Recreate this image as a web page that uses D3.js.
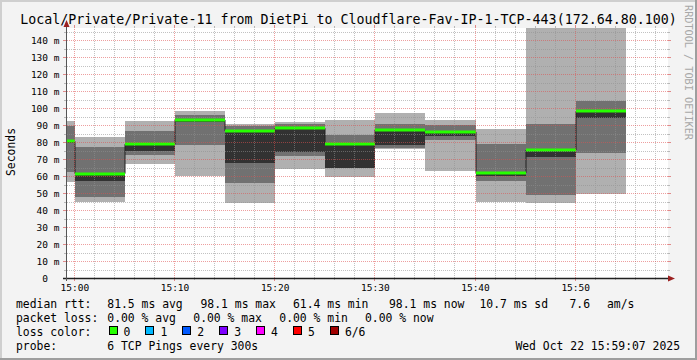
<!DOCTYPE html>
<html><head><meta charset="utf-8">
<script src="https://cdn.jsdelivr.net/npm/d3@7"></script>
<style>
html,body{margin:0;padding:0;background:#f3f3f3;}
svg{display:block;}
text{white-space:pre;}
</style>
</head><body>
<svg id="chart" width="697" height="360"></svg>
<script>
// ---- data ----
const titleText = "Local/Private/Private-11 from DietPi to Cloudflare-Fav-IP-1-TCP-443(172.64.80.100)";
const rangeStart = "14:59:07";
const rangeEnd = "15:59:07";
const barEnds = ["15:00","15:05","15:10","15:15","15:20","15:25","15:30","15:35","15:40","15:45","15:50","15:55"];
// sorted ping RTTs (ms) per 5-minute step
const ping1 = [56.5, 44.7, 67.1, 60.0, 43.9, 64.2, 59.6, 75.7, 62.9, 44.9, 43.9, 49.4];
const ping2 = [62.5, 47.8, 72.4, 78.2, 56.1, 71.9, 64.5, 76.7, 81.2, 57.1, 49.0, 73.7];
const ping3 = [79.2, 57.1, 74.7, 92.0, 67.8, 74.2, 64.7, 78.2, 83.5, 59.8, 71.4, 94.3];
const ping4 = [81.2, 62.0, 79.3, 93.6, 87.1, 88.8, 79.6, 87.6, 86.4, 62.3, 75.8, 98.6];
const ping5 = [89.5, 77.3, 86.5, 95.9, 89.6, 90.8, 84.1, 90.6, 90.2, 78.8, 90.6, 104.1];
const ping6 = [92.4, 83.1, 92.4, 98.2, 90.4, 91.8, 92.9, 97.1, 92.9, 87.6, 152.0, 150.0];
const median = [80.4, 61.4, 78.7, 93.0, 86.5, 88.1, 79.0, 87.1, 85.9, 61.8, 75.3, 98.1];
const yTickValues = [0,10,20,30,40,50,60,70,80,90,100,110,120,130,140];
const yTickLabels = ["0","10 m","20 m","30 m","40 m","50 m","60 m","70 m","80 m","90 m","100 m","110 m","120 m","130 m","140 m"];
const xTickLabels = ["15:00","15:10","15:20","15:30","15:40","15:50"];
const rttStats = ["81.5 ms avg","98.1 ms max","61.4 ms min","98.1 ms now","10.7 ms sd","7.6","am/s"];
const lossStats = ["0.00 % avg","0.00 % max","0.00 % min","0.00 % now"];
const lossLabels = ["0","1","2","3","4","5","6/6"];
const lossColors = ["#26ff00","#00b8ff","#0059ff","#7e00ff","#ff00ff","#ff0000","#a00000"];
const probeText = "6 TCP Pings every 300s";
const dateText = "Wed Oct 22 15:59:07 2025";

// ---- layout ----
const W = 697, H = 360;
const L = 66, R = 667, T = 28, B = 278;
const MONO = "'DejaVu Sans Mono', monospace";
const svg = d3.select("#chart");

const pT = d3.timeParse("%H:%M:%S");
const pM = d3.timeParse("%H:%M");
const x = d3.scaleTime().domain([pT(rangeStart), pT(rangeEnd)]).range([L, R]);
const y = d3.scaleLinear().domain([0, 140 * (B - T) / (B - 40)]).range([B, T]);

// background + shaded border
svg.append("rect").attr("width", W).attr("height", H).attr("fill", "#f3f3f3");
svg.append("path").attr("d", `M0,${H} V0 H${W}`).attr("stroke", "#cfcfcf").attr("stroke-width", 4).attr("fill", "none");
svg.append("path").attr("d", `M${W},0 V${H} H0`).attr("stroke", "#9e9e9e").attr("stroke-width", 4).attr("fill", "none");
svg.append("rect").attr("x", L).attr("y", T).attr("width", R - L + 1).attr("height", B - T).attr("fill", "#ffffff");

svg.append("defs").append("clipPath").attr("id", "plot")
  .append("rect").attr("x", L + 1).attr("y", T).attr("width", R - L).attr("height", B - T);

const g = svg.append("g").attr("clip-path", "url(#plot)");

const bars = barEnds.map((e, i) => {
  const te = pM(e);
  const ts = d3.timeMinute.offset(te, -5);
  return {
    x0: Math.max(Math.round(x(ts)), L + 1),
    x1: Math.round(x(te)),
    p: [ping1[i], ping2[i], ping3[i], ping4[i], ping5[i], ping6[i]],
    m: median[i]
  };
});

const smokeCols = ["#b0b0b0", "#717171", "#323232"];
[0, 1, 2].forEach(k => {
  g.selectAll(null).data(bars).enter().append("rect")
    .attr("x", d => d.x0).attr("width", d => d.x1 - d.x0)
    .attr("y", d => Math.round(y(d.p[5 - k])))
    .attr("height", d => Math.round(y(d.p[k])) - Math.round(y(d.p[5 - k])))
    .attr("fill", smokeCols[k]);
});

// grid: dotted (1 on / 1 off) built from filled 1x1 pixel squares
const minorCol = "rgba(143,143,143,0.55)";
const majorCol = "rgba(222,81,81,0.55)";
const tickMinor = "#b8b8b8", tickMajor = "#e08a8a";
const px = (a, b, w, h) => `M${a},${b}h${w}v${h}h${-w}Z`;
let dMinor = "", dMajor = "", dTickMinor = "", dTickMajor = "";
d3.range(5, 147, 10).forEach(v => {
  const row = Math.round(y(v));
  for (let xx = L + 1; xx <= R; xx += 2) dMinor += px(xx, row, 1, 1);
  dTickMinor += px(L - 2, row, 2, 1) + px(R + 1, row, 2, 1);
});
yTickValues.slice(1).forEach(v => {
  const row = Math.round(y(v));
  for (let xx = L + 1; xx <= R; xx += 2) dMajor += px(xx, row, 1, 1);
  dTickMajor += px(L - 3, row, 3, 1) + px(R + 1, row, 3, 1);
});
d3.timeMinute.every(2).range(pT("14:59:07"), pT("15:59:08")).forEach(t => {
  const major = t.getMinutes() % 10 === 0;
  const col = Math.round(x(t)) - 1;
  let s = "";
  for (let yy = T + 1; yy < B; yy += 2) s += px(col, yy, 1, 1);
  const tk = major ? 3 : 2;
  const ts = px(col, B + 1, 1, tk - 1) + px(col, T - tk, 1, tk);
  if (major) { dMajor += s; dTickMajor += ts; } else { dMinor += s; dTickMinor += ts; }
});
const gridG = svg.append("g").attr("stroke", "none");
gridG.append("path").attr("d", dMinor).attr("fill", minorCol);
gridG.append("path").attr("d", dMajor).attr("fill", majorCol);
gridG.append("path").attr("d", dTickMinor).attr("fill", tickMinor);
gridG.append("path").attr("d", dTickMajor).attr("fill", tickMajor);

// median step line
const pts = [];
bars.forEach(d => { pts.push([d.x0, y(d.m)]); pts.push([d.x1, y(d.m)]); });
g.append("path").attr("d", d3.line()(pts)).attr("fill", "none")
  .attr("stroke", "#202020").attr("stroke-width", 1);
// loss-coloured median band
g.selectAll(null).data(bars).enter().append("rect")
  .attr("x", d => d.x0).attr("width", d => d.x1 - d.x0)
  .attr("y", d => Math.round(y(d.m)) - 1.5).attr("height", 3)
  .attr("fill", lossColors[0]);

// axes
const axisCol = "#202020";
svg.append("line").attr("x1", L - 3).attr("x2", R + 1).attr("y1", B + 0.5).attr("y2", B + 0.5)
  .attr("stroke", axisCol).attr("stroke-width", 1.4);
svg.append("line").attr("x1", L + 0.5).attr("x2", L + 0.5).attr("y1", B + 3).attr("y2", T - 3)
  .attr("stroke", "#555").attr("stroke-width", 1);
svg.append("path").attr("d", `M${R + 1},${B - 2.5} L${R + 8},${B + 0.5} L${R + 1},${B + 3.5} Z`).attr("fill", "#9b2020");
svg.append("path").attr("d", `M${L - 2.5},${T - 1} L${L + 0.5},${T - 8} L${L + 3.5},${T - 1} Z`).attr("fill", "#9b2020");

// tick labels
const tickFont = 9.5;
svg.selectAll(null).data(yTickValues).enter().append("text")
  .attr("x", (d, i) => 59.5 - (yTickLabels[i].indexOf(" ") < 0 ? 2 * 0.602 * tickFont : 0))
  .attr("y", d => y(d) + 3.5)
  .attr("text-anchor", "end").attr("font-family", MONO).attr("font-size", tickFont).attr("fill", "#000")
  .text((d, i) => yTickLabels[i]);
svg.selectAll(null).data(xTickLabels).enter().append("text")
  .attr("x", d => x(pM(d))).attr("y", 291)
  .attr("text-anchor", "middle").attr("font-family", MONO).attr("font-size", tickFont).attr("fill", "#000")
  .text(d => d);

// title
svg.append("text").attr("x", 348.5).attr("y", 24).attr("text-anchor", "middle")
  .attr("font-family", MONO).attr("font-size", 13.3).attr("fill", "#000").text(titleText);

// y label
svg.append("text").attr("transform", "translate(15,152) rotate(-90)").attr("text-anchor", "middle")
  .attr("font-family", MONO).attr("font-size", 11.4).attr("fill", "#000").text("Seconds");

// watermark
svg.append("text").attr("transform", "translate(684.5,5) rotate(90)").attr("text-anchor", "start")
  .attr("font-family", MONO).attr("font-size", 10.2).attr("fill", "#a8a8a8")
  .text("RRDTOOL / TOBI OETIKER");

// legend
const LF = 11.4;
function lt(xp, yp, s, anchor) {
  svg.append("text").attr("x", xp).attr("y", yp).attr("text-anchor", anchor || "start")
    .attr("font-family", MONO).attr("font-size", LF).attr("fill", "#000").text(s);
}
const rttX = [107.3, 200.5, 293, 389, 479.5, 569.5, 607];
lt(16, 308, "median rtt:");
rttStats.forEach((s, i) => lt(rttX[i], 308, s));
const lossX = [107.3, 193.3, 279.3, 365];
lt(16, 322, "packet loss:");
lossStats.forEach((s, i) => lt(lossX[i], 322, s));
lt(16, 336, "loss color:");
lossLabels.forEach((s, i) => {
  const bx = 108.5 + i * 36.9;
  svg.append("rect").attr("x", Math.round(bx) + 0.5).attr("y", 326.5).attr("width", 8).attr("height", 8)
    .attr("fill", lossColors[i]).attr("stroke", "#000").attr("stroke-width", 1);
  lt(bx + 15, 336, s);
});
lt(16, 349.5, "probe:");
lt(107.3, 349.5, probeText);
lt(680, 349.5, dateText, "end");
</script>
</body></html>
